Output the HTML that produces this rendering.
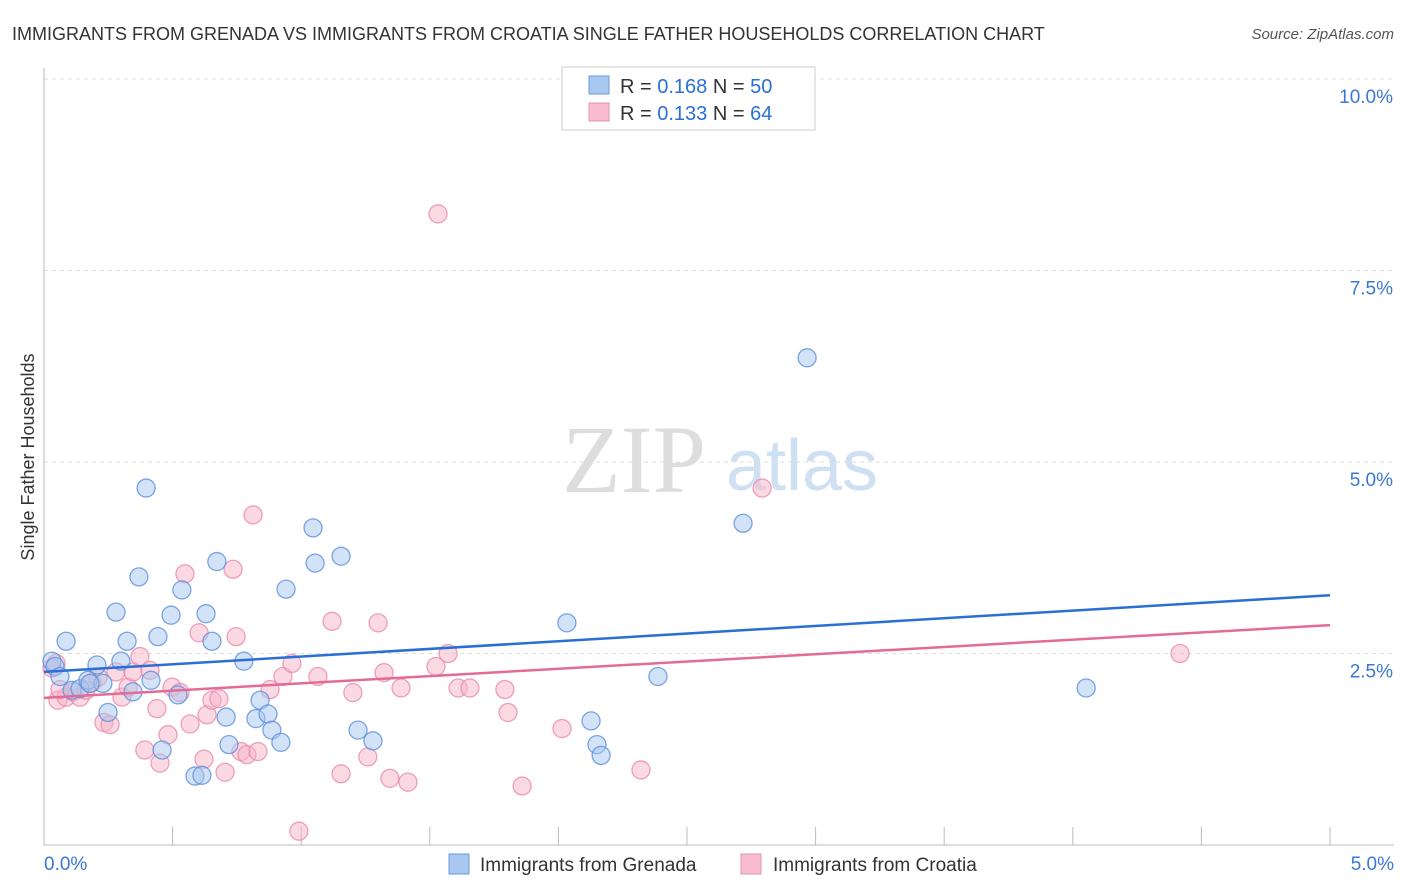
<!DOCTYPE html>
<html><head><meta charset="utf-8"><style>
body{margin:0;background:#fff;font-family:"Liberation Sans",sans-serif;}
svg{display:block}
</style></head><body>
<svg id="chart" width="1406" height="892" xmlns="http://www.w3.org/2000/svg">
<text x="12" y="40" font-size="18" fill="#333">IMMIGRANTS FROM GRENADA VS IMMIGRANTS FROM CROATIA SINGLE FATHER HOUSEHOLDS CORRELATION CHART</text>
<text x="1394" y="39" font-size="15" fill="#555" text-anchor="end" font-style="italic">Source: ZipAtlas.com</text>
<text transform="translate(34,457) rotate(-90)" font-size="18" fill="#333" text-anchor="middle">Single Father Households</text>
<g>
<text x="634" y="492" font-size="96" font-family="Liberation Serif,serif" fill="#ddd" text-anchor="middle">ZIP</text>
<text x="802" y="490" font-size="72" fill="#cfe0f3" text-anchor="middle">atlas</text>
</g>
<g id="grid"></g>
<g id="axes"></g>
<g id="pts"></g>
<g id="lines"></g>
<g>
<rect x="562" y="67" width="253" height="63" fill="#fff" stroke="#ccc"/>
<rect x="589" y="76" width="20" height="18" fill="#a8c8f0" stroke="#6a9ae0"/>
<rect x="589" y="103" width="20" height="18" fill="#f7bccd" stroke="#e890b0"/>
<text x="620" y="93" font-size="20" fill="#333">R = <tspan fill="#2a6fd6">0.168</tspan>   N = <tspan fill="#2a6fd6">50</tspan></text>
<text x="620" y="120" font-size="20" fill="#333">R = <tspan fill="#2a6fd6">0.133</tspan>   N = <tspan fill="#2a6fd6">64</tspan></text>
</g>
<g>
<rect x="449" y="854" width="20" height="20" fill="#a8c8f0" stroke="#6a9ae0"/>
<text x="480" y="871" font-size="19" fill="#333">Immigrants from Grenada</text>
<rect x="741" y="854" width="20" height="20" fill="#f7bccd" stroke="#e890b0"/>
<text x="773" y="871" font-size="19" fill="#333">Immigrants from Croatia</text>
</g>
</svg>
<script>
const yTicks=[2.5,5,7.5,10];
const yTickLabels=["2.5%","5.0%","7.5%","10.0%"];
const xTicks=[0,0.5,1,1.5,2,2.5,3,3.5,4,4.5,5];
const grenadaX=[0.031,0.043,0.062,0.086,0.109,0.140,0.171,0.206,0.229,0.249,0.280,0.299,0.323,0.346,0.369,0.397,0.416,0.443,0.459,0.494,0.521,0.536,0.587,0.614,0.630,0.653,0.672,0.708,0.719,0.777,0.824,0.840,0.871,0.886,0.921,0.941,1.046,1.054,1.155,1.221,1.279,2.033,2.127,2.150,2.166,2.387,2.718,2.967,4.052,0.179];
const grenadaY=[2.40,2.33,2.20,2.66,2.02,2.04,2.15,2.35,2.11,1.73,3.04,2.40,2.66,2.00,3.50,4.66,2.15,2.72,1.24,3.00,1.96,3.33,0.90,0.91,3.02,2.66,3.70,1.67,1.31,2.40,1.65,1.89,1.71,1.50,1.34,3.34,4.14,3.68,3.77,1.50,1.36,2.90,1.62,1.31,1.17,2.20,4.20,6.36,2.05,2.11];
const croatiaX=[0.031,0.047,0.054,0.086,0.113,0.140,0.163,0.187,0.210,0.233,0.257,0.280,0.303,0.327,0.346,0.373,0.392,0.412,0.439,0.451,0.482,0.498,0.529,0.548,0.568,0.603,0.622,0.634,0.653,0.680,0.704,0.735,0.747,0.766,0.789,0.813,0.832,0.879,0.929,0.964,0.991,1.065,1.120,1.155,1.201,1.259,1.299,1.322,1.345,1.388,1.415,1.524,1.532,1.571,1.610,1.656,1.792,1.804,1.859,2.014,2.321,2.792,4.417,0.062];
const croatiaY=[2.31,2.37,1.89,1.93,2.00,1.93,2.02,2.12,2.19,1.60,1.57,2.26,1.93,2.06,2.26,2.46,1.24,2.28,1.78,1.07,1.44,2.06,1.99,3.54,1.58,2.77,1.12,1.70,1.89,1.91,0.95,3.60,2.72,1.22,1.18,4.31,1.22,2.03,2.20,2.37,0.18,2.20,2.92,0.93,1.99,1.15,2.90,2.25,0.87,2.05,0.82,2.33,8.24,2.50,2.05,2.05,2.03,1.73,0.77,1.52,0.98,4.66,2.50,2.03];
const trendB=[2.26,3.26], trendP=[1.92,2.87];
const ns="http://www.w3.org/2000/svg";
const X=v=>44+v*257.2, Y=v=>845-v*76.6;
function mk(t,a,p){const e=document.createElementNS(ns,t);for(const k in a)e.setAttribute(k,a[k]);p.appendChild(e);return e;}
const grid=document.getElementById('grid'),axes=document.getElementById('axes'),pts=document.getElementById('pts'),lines=document.getElementById('lines');
yTicks.forEach((t,i)=>{
 const l=mk('line',{x1:44,x2:1394,y1:Y(t),y2:Y(t),stroke:'#ddd','stroke-dasharray':'4,4'},grid);
 
 
 const tx=mk('text',{x:1393,y:Y(t)+24,'font-size':19,fill:'#3a78d4','text-anchor':'end'},axes);
 tx.textContent=yTickLabels[i];
 
 
});
const ax=mk('line',{x1:44,x2:44,y1:68,y2:845,stroke:'#bbb'},axes);


const bx=mk('line',{x1:44,x2:1394,y1:845,y2:845,stroke:'#bbb'},axes);


xTicks.forEach(t=>{
 const l=mk('line',{x1:X(t),x2:X(t),y1:827,y2:845,stroke:'#bbb'},axes);
 
 
});
[["0.0%",44,'start'],["5.0%",1394,'end']].forEach(d=>{
 const tx=mk('text',{x:d[1],y:870,'font-size':19,fill:'#3a78d4','text-anchor':d[2]},axes);
 tx.textContent=d[0];
 
 
});
function series(xs,ys,fill,stroke,name){
 xs.forEach((x,i)=>{
  const c=mk('circle',{cx:X(x),cy:Y(ys[i]),r:9,fill:fill,'fill-opacity':0.5,stroke:stroke,'stroke-opacity':0.8,'stroke-width':1.3},pts);
  
  
 });
}
series(croatiaX,croatiaY,'#f7b3c8','#e98aab','croatia-point');
series(grenadaX,grenadaY,'#a8c8f0','#5c8fdc','grenada-point');
const lb=mk('line',{x1:X(0),y1:Y(trendB[0]),x2:X(5),y2:Y(trendB[1]),stroke:'#2a6fd6','stroke-width':2.5},lines);


const lp=mk('line',{x1:X(0),y1:Y(trendP[0]),x2:X(5),y2:Y(trendP[1]),stroke:'#e36b97','stroke-width':2.5},lines);


</script>
</body></html>
